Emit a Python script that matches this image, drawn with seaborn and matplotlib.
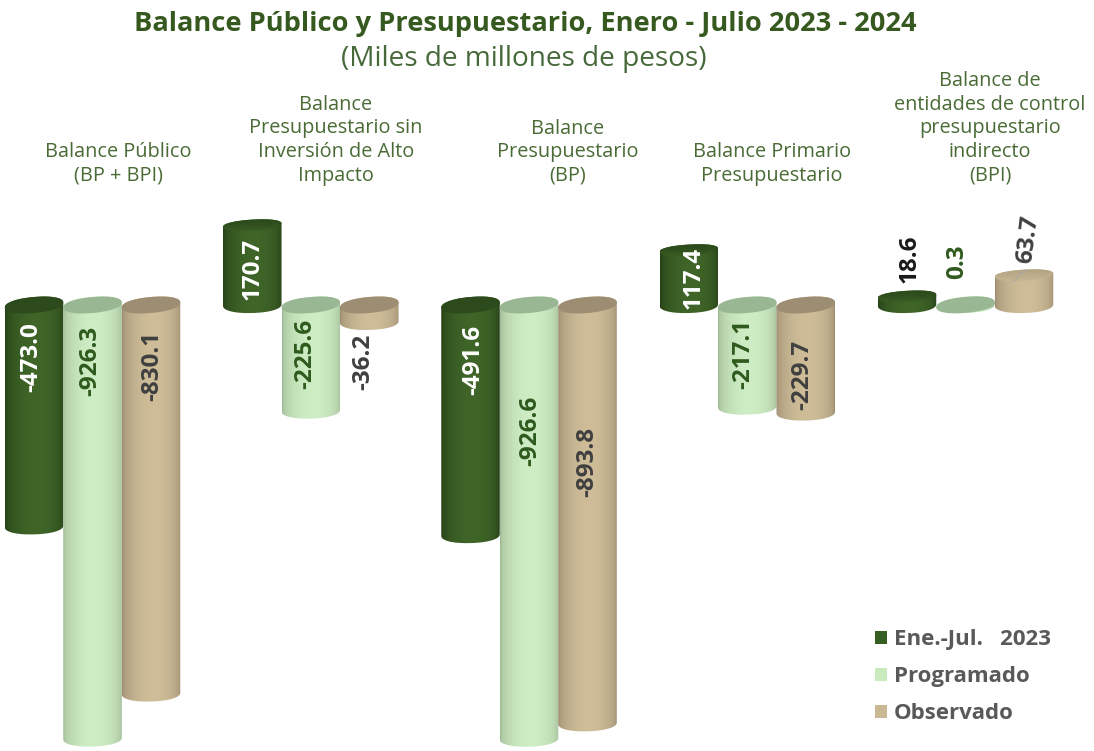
import numpy as np
import pandas as pd
import matplotlib
matplotlib.use('Agg')
import matplotlib.pyplot as plt
import seaborn as sns
from matplotlib.patches import Patch, Polygon
from matplotlib.path import Path
from matplotlib.colors import to_rgb

# data
groups = ['BP + BPI', 'Sin inversion', 'BP', 'Primario', 'BPI']
ene_jul_2023 = [-473.0, 170.7, -491.6, 117.4, 18.6]
programado = [-926.3, -225.6, -926.6, -217.1, 0.3]
observado = [-830.1, -36.2, -893.8, -229.7, 63.7]
series_names = ['Ene.-Jul.   2023', 'Programado', 'Observado']

headers = [
    'Balance Público\n(BP + BPI)',
    'Balance\nPresupuestario sin\nInversión de Alto\nImpacto',
    'Balance\nPresupuestario\n(BP)',
    'Balance Primario\nPresupuestario',
    'Balance de\nentidades de control\npresupuestario\nindirecto\n(BPI)',
]
header_x = [118, 336, 568, 772, 990]

# label centres in pixels of the picture
label_pos = [
    [(31, 357), (253, 269), (473, 360), (694, 278), (910, 259)],
    [(90, 361), (305, 354), (530, 431), (743, 354), (957, 262)],
    [(152, 366), (363, 362), (587, 462), (802, 375), (1028, 239)],
]
label_colors = [
    ['white', 'white', 'white', 'white', '#1a1a1a'],
    ['#2f5a1e'] * 5,
    ['#404040'] * 5,
]

# edge, centre and top surface colours
side_edge = ['#233d15', '#9db995', '#9a8a6e']
side_mid = ['#3f6528', '#cfedc4', '#cebd98']
cap_colors = ['#2c4a1b', '#9ab793', '#9d8d72']
legend_colors = ['#375f23', '#c9eabd', '#c9b893']

W, H = 1094, 751
PX_PER_UNIT = 0.468
ZERO_PX = 305
GROUP_STEP = 218.25
FIRST_CENTRE = 92.5
CAP_B = 8 / PX_PER_UNIT   # half height of the ellipses, data units
CAP_B_UP = 5.5 / PX_PER_UNIT
TILT_TOP = 2.5 / PX_PER_UNIT
TILT_LOW = 0.8 / PX_PER_UNIT
ROUND = 0.92

def px(x, y):
    return x / W, 1 - y / H

df = pd.DataFrame({
    'grupo': groups * 3,
    'serie': np.repeat(series_names, len(groups)),
    'valor': ene_jul_2023 + programado + observado,
})

sns.set_theme(style='white')
plt.rcParams['font.family'] = ['Open Sans', 'DejaVu Sans']

fig = plt.figure(figsize=(W / 100, H / 100), dpi=100)
ax = fig.add_axes([0, 0, 1, 1])
sns.barplot(data=df, x='grupo', y='valor', hue='serie', hue_order=series_names,
            palette=dict(zip(series_names, side_mid)), width=0.804, gap=0,
            legend=False, ax=ax)

xlim = (-FIRST_CENTRE / GROUP_STEP, (W - FIRST_CENTRE) / GROUP_STEP)
ylim = (-(H - ZERO_PX) / PX_PER_UNIT, ZERO_PX / PX_PER_UNIT)


def arc(cx, cy, a, t0, t1, b=CAP_B, tilt=TILT_TOP, n=80):
    t = np.linspace(t0, t1, n)
    c, s = np.cos(t), np.sin(t)
    rc = np.sign(c) * np.abs(c) ** ROUND
    rs = np.sign(s) * np.abs(s) ** ROUND
    return np.column_stack([cx + a * rc, cy + b * rs + tilt * rc * b / CAP_B])


def gradient_fill(colors, extent, clip, z, vertical=False):
    arr = np.array(colors)
    arr = arr[:, None, :] if vertical else arr[None, :, :]
    im = ax.imshow(arr, extent=extent, aspect='auto', zorder=z, interpolation='bilinear')
    im.set_clip_path(Path(clip, closed=True), transform=ax.transData)


for s, container in enumerate(ax.containers):
    edge = np.array(to_rgb(side_edge[s]))
    mid = np.array(to_rgb(side_mid[s]))
    cap = np.array(to_rgb(cap_colors[s]))
    for g, bar in enumerate(container):
        x0, w, v = bar.get_x(), bar.get_width(), bar.get_height()
        cx, a = x0 + w / 2, w / 2
        hi, lo = max(v, 0), min(v, 0)
        z = 3 + s * 3
        up = v > 1
        b_top = CAP_B_UP if up else CAP_B
        bar.set_visible(False)

        outline = np.vstack([arc(cx, hi, a, np.pi, 0, b=b_top),
                             arc(cx, lo, a, 0, -np.pi, tilt=TILT_LOW)])
        t = np.linspace(0, 1, 80)
        f = np.clip(np.sin(np.pi * t ** 1.1), 0, 1) ** 0.42
        cols = edge + (mid - edge) * f[:, None]
        gradient_fill(cols, (x0, x0 + w, lo - CAP_B - TILT_TOP, hi + CAP_B + TILT_TOP), outline, z)

        top = arc(cx, hi, a, 0, 2 * np.pi, b=b_top)
        if up:
            # rounded shoulder on bars above zero
            k = np.linspace(0, 1, 40)[:, None]
            if s == 2:
                shade = mid * (0.84 + 0.14 * k)
            else:
                shade = cap + (mid - cap) * k ** 2
            gradient_fill(shade, (x0, x0 + w, hi - b_top - TILT_TOP, hi + b_top + TILT_TOP), top, z + 1,
                          vertical=True)
        else:
            ax.add_patch(Polygon(top, closed=True, fc=cap, ec='none', zorder=z + 1))

for s, vals in enumerate([ene_jul_2023, programado, observado]):
    for g, v in enumerate(vals):
        lx, ly = label_pos[s][g]
        fx, fy = px(lx, ly)
        rot = 83 if (s, g) == (2, 4) else 90
        fig.text(fx, fy, f'{v:.1f}', rotation=rot, ha='center', va='center',
                 fontsize=17.5, fontweight='bold', color=label_colors[s][g], zorder=30)

# leader line of the last label
ax.plot([px(1025, 0)[0], px(1014, 0)[0]], [px(0, 270)[1], px(0, 281)[1]], transform=fig.transFigure,
        color='#a9a9a0', lw=1, zorder=25)

ax.set_xlim(*xlim)
ax.set_ylim(*ylim)
ax.axis('off')

fig.text(*px(525, 24), 'Balance Público y Presupuestario, Enero - Julio 2023 - 2024',
         ha='center', va='center', fontsize=19.6, fontweight='bold', color='#35591f')
fig.text(*px(524, 59), '(Miles de millones de pesos)', ha='center', va='center',
         fontsize=20.2, color='#47693a')

for text, hx in zip(headers, header_x):
    fig.text(*px(hx, 186), text, ha='center', va='bottom', fontsize=14.3,
             color='#4a6b35', linespacing=1.25)

handles = [Patch(fc=c, ec='none') for c in legend_colors]
leg = ax.legend(handles, series_names, loc='upper left', bbox_to_anchor=px(855, 609),
                bbox_transform=fig.transFigure, frameon=False, handlelength=0.54, handleheight=0.54,
                handletextpad=0.3, labelspacing=0.72,
                prop={'size': 16, 'weight': 'bold'}, labelcolor='#595959')

fig.savefig('out.png', dpi=100)
